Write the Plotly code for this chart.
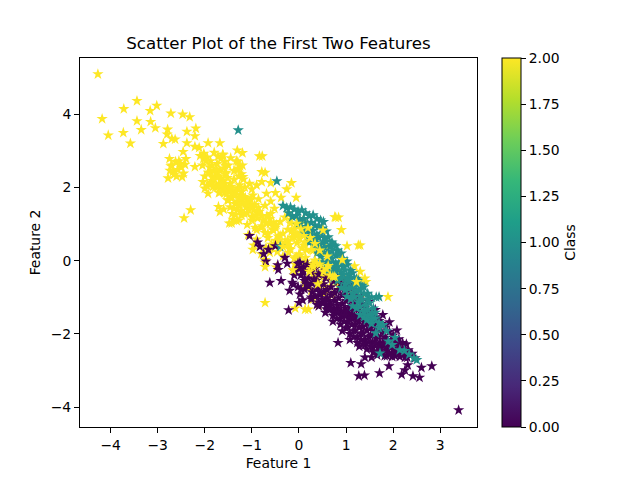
import plotly.graph_objects as go

# Class 2 (yellow) points
yellow_x = [-4.27,-3.44,-3.72,-3.02,-3.16,-4.18,-3.44,-3.15,-2.72,-2.47,-2.32,-4.05,-3.73,-3.35,-3.05,-3.58,
 -2.79,-2.19,-2.38,-2.21,-2.80,-2.88,-2.70,-2.63,-2.38,-1.93,-1.68,-2.21,-2.12,-1.31,-1.20,-0.78,-2.46,
 -2.75,-2.72,-2.68,-2.60,-2.55,-2.50,-2.45,-2.78,-2.70,-2.62,-2.52,-2.42,-2.74,-2.65,-2.58,-2.48,-2.40,
 -2.10,-2.02,-1.95,-1.88,-1.80,-1.72,-1.62,-2.05,-1.98,-1.90,-1.82,-1.74,-1.66,-1.58,-2.00,-1.92,-1.85,-1.76,-1.68,-1.60,-1.50,
 -1.95,-1.85,-1.78,-1.70,-1.62,-1.55,-1.46,-1.38,-1.30,-1.25,-1.33,-1.28,-1.22,-1.18,-1.30,-1.24,
 -1.70,-1.62,-1.56,-1.50,-1.44,-1.38,-1.30,-1.22,-1.14,-1.06,-0.98,-1.60,-1.52,-1.44,-1.36,-1.28,-1.20,-1.12,-1.04,-0.96,-0.88,
 -1.40,-1.32,-1.24,-1.16,-1.08,-1.00,-0.92,-0.84,-0.76,-0.68,-0.60,-0.52,-0.80,-0.72,-0.66,-0.56,-0.48,-0.40,-0.30,-0.22,
 -0.84,-0.72,-0.60,-0.50,-0.38,-0.26,-0.16,-0.06,-0.70,-0.62,-0.50,-0.40,-0.28,-0.16,-0.02,0.08,0.18,
 -2.44,-2.30,-1.48,-1.46,-1.42,-1.58,-1.08,-0.96,-0.90,-0.98,-0.80,-0.72,-0.48,-0.58,-0.18,-0.18,-0.24,-0.12,
 -0.30,-0.20,-0.10,0.00,0.10,0.20,0.30,0.40,0.50,0.58,-0.08,0.04,0.14,0.24,0.34,0.46,0.56,0.66,0.76,0.12,0.26,0.42,0.54,0.68,0.80,
 0.30,0.42,0.56,0.70,0.84,0.98,1.10,0.78,0.90,1.02,1.18,1.30,1.28,1.42,1.18,1.30,0.20,-0.62,-0.72,-0.50,0.84,-0.08,-0.72,
 -1.92,-1.84,-1.76,-1.66,-1.56,-1.88,-1.80,-1.70,-1.60,-1.52,-1.74,-1.64,-1.58,-1.48,-1.42,-1.68,-1.54,-1.40,-1.34,-1.26,
 -1.44,-1.36,-1.30,-1.18,-1.10,-1.02,-1.38,-1.26,-1.14,-1.00,-0.94,-0.86,-1.22,-1.10,-0.98,-0.88,-0.78,-0.70,-0.62,-0.54,
 -0.90,-0.78,-0.66,-0.54,-0.44,-0.34,-0.24,-0.14,-0.04,0.06,-0.58,-0.46,-0.34,-0.22,-0.10,0.02,0.14,0.26,0.38,0.50,
 -0.42,-0.30,-0.18,-0.06,0.06,0.18,0.30,0.42,0.54,0.66]
yellow_y = [5.09,4.36,4.14,4.23,4.09,3.87,3.81,3.79,4.02,3.99,3.92,3.42,3.49,3.57,3.62,3.20,
 3.58,3.61,3.52,3.40,3.45,3.19,3.33,3.31,3.21,3.21,3.21,3.11,3.08,3.01,2.94,2.85,2.97,
 2.78,2.58,2.42,2.30,2.72,2.54,2.38,2.25,2.60,2.70,2.65,2.62,2.46,2.35,2.48,2.28,2.78,
 2.86,2.92,2.82,2.72,2.95,2.84,2.90,2.60,2.72,2.55,2.44,2.64,2.78,2.70,2.30,2.40,2.18,2.30,2.46,2.52,2.60,
 2.04,2.12,2.00,2.08,2.15,2.03,2.10,2.22,2.48,2.58,2.72,2.30,2.36,2.22,1.98,1.78,
 1.85,1.95,2.00,1.90,2.02,1.85,1.96,1.88,1.72,1.64,1.78,1.40,1.65,1.75,1.55,1.72,1.60,1.46,1.52,1.38,1.30,
 1.12,1.08,1.36,1.28,1.40,1.18,1.24,1.34,1.10,1.22,1.28,1.42,0.90,0.76,0.62,0.86,0.98,1.06,1.18,1.30,
 2.85,2.40,2.12,1.85,1.72,1.95,2.12,1.72,0.35,0.22,0.55,0.68,0.48,0.80,0.95,1.08,0.85,
 1.16,1.38,1.02,1.46,1.28,1.85,0.70,0.42,0.58,0.30,0.18,0.02,-0.18,0.44,1.12,1.02,0.85,0.75,
 0.50,0.32,0.64,0.18,0.42,0.60,0.28,0.46,0.20,0.36,-0.10,-0.22,0.08,-0.32,-0.48,-0.10,-0.26,-0.38,-0.18,-0.62,-0.82,-0.60,-0.90,-0.48,-0.60,
 -1.05,-1.22,-0.72,-0.95,-0.68,-0.52,-0.88,1.18,0.84,0.40,-0.15,-0.30,-0.55,-0.58,-0.80,-1.00,-1.33,0.35,-0.05,0.90,-0.28,-1.30,-1.15,
 2.40,2.28,2.40,2.24,2.36,2.10,2.22,2.30,2.18,2.26,2.02,2.08,1.96,2.00,1.92,1.86,1.82,1.80,1.90,2.06,
 1.70,1.78,1.62,1.74,1.56,1.66,1.42,1.50,1.56,1.44,1.52,1.44,1.24,1.30,1.20,1.16,1.22,1.02,1.14,1.04,
 0.84,0.94,0.74,0.82,0.66,0.74,0.56,0.62,0.48,0.34,0.36,0.24,0.12,0.22,0.06,0.14,-0.02,-0.12,-0.08,-0.20,
 0.54,0.42,0.30,0.10,-0.12,-0.24,-0.36,-0.40,-0.44,-0.70]

# More yellow points read from the wider parts of the cloud
yellow_more_x = [-2.21,-2.03,-1.61,-1.30,-1.19,-0.79,-0.79,-0.90,-0.69,-1.71,
 -1.68,-1.50,-1.30,-1.43,-1.27,-1.00,-0.93,-0.62,-0.50,-2.04,
 -1.93,-2.00,-1.83,-1.66,-1.55,-1.57,-1.29,-1.20,-1.85,-1.75,
 -1.45,-1.38,-1.05,-1.00,-0.86,-0.60,-1.15,-1.35,-1.10,-0.72]
yellow_more_y = [2.56,2.79,2.88,2.70,2.29,2.42,2.15,2.06,1.83,1.47,
 1.33,1.65,1.38,1.02,1.10,1.10,0.90,1.01,0.95,2.15,
 1.83,1.97,2.01,2.05,2.40,2.60,2.52,2.60,2.60,2.50,
 2.80,2.45,2.10,1.95,1.68,1.62,2.00,1.25,0.98,1.50]

# Class 0 (dark purple) points
purple_x = [3.39,2.82,2.60,2.56,2.42,2.31,2.25,2.18,1.91,1.71,1.54,1.40,1.39,1.27,1.32,1.10,0.83,2.25,2.04,1.87,
 -1.05,-0.88,-0.83,-0.75,-0.65,-0.50,-0.62,-0.44,-0.38,-0.25,-0.08,-0.02,-0.20,-0.12,-0.30,-0.45,-0.70,-0.22,0.00,
 0.02,0.10,0.18,0.26,0.34,0.42,0.50,0.58,0.66,0.74,0.82,0.90,0.98,1.06,1.14,
 0.04,0.12,0.20,0.28,0.36,0.44,0.52,0.60,0.68,0.76,0.84,0.92,1.00,1.08,1.16,1.24,1.32,
 0.12,0.20,0.28,0.36,0.44,0.52,0.60,0.68,0.76,0.84,0.92,1.00,1.08,1.16,1.24,1.32,1.40,1.48,
 0.26,0.34,0.42,0.50,0.58,0.66,0.74,0.82,0.90,0.98,1.06,1.14,1.22,1.30,1.38,1.46,1.54,1.62,
 0.42,0.50,0.58,0.66,0.74,0.82,0.90,0.98,1.06,1.14,1.22,1.30,1.38,1.46,1.54,1.62,1.70,1.78,
 0.56,0.64,0.72,0.80,0.88,0.96,1.04,1.12,1.20,1.28,1.36,1.44,1.52,1.60,1.68,1.76,1.84,1.92,
 0.72,0.80,0.88,0.96,1.04,1.12,1.20,1.28,1.36,1.44,1.52,1.60,1.68,1.76,1.84,1.92,2.00,2.08,
 0.92,1.00,1.08,1.16,1.24,1.32,1.40,1.48,1.56,1.64,1.72,1.80,1.88,1.96,2.04,2.12,2.20,
 1.08,1.16,1.24,1.32,1.40,1.48,1.56,1.64,1.72,1.80,1.88,1.96,2.04,2.12,2.20,2.28,
 1.28,1.36,1.44,1.52,1.60,1.68,1.76,1.84,1.92,2.00,2.08,2.16,2.24,2.32,2.40,
 1.58,1.66,1.74,1.82,1.90,1.98,2.06,2.14,2.22,2.30,2.38,2.46,
 0.00,0.12,0.04,0.18,0.32,0.44,0.56,-0.02,0.10,0.26,0.38,-0.10,-0.14,0.02,0.08]
purple_y = [-4.08,-2.88,-2.92,-3.19,-3.15,-2.85,-2.99,-3.11,-2.88,-3.07,-2.64,-2.64,-3.13,-3.15,-2.82,-2.79,-2.24,-2.64,-2.60,-2.60,
 0.68,0.50,0.38,0.18,0.30,0.40,-0.60,-0.25,-0.55,-0.08,-0.30,-0.72,-0.82,-0.65,0.08,-0.12,-0.02,-1.35,-1.15,
 -0.05,-0.18,-0.10,-0.30,-0.22,-0.38,-0.30,-0.48,-0.40,-0.56,-0.48,-0.64,-0.56,-0.72,-0.66,
 -0.40,-0.55,-0.48,-0.62,-0.55,-0.72,-0.64,-0.80,-0.72,-0.88,-0.80,-0.94,-0.86,-1.00,-0.92,-1.06,-0.96,
 -0.78,-0.70,-0.86,-0.78,-0.94,-0.86,-1.02,-0.94,-1.10,-1.02,-1.18,-1.10,-1.26,-1.16,-1.30,-1.18,-1.28,-1.12,
 -1.05,-0.98,-1.14,-1.06,-1.22,-1.14,-1.30,-1.22,-1.38,-1.30,-1.44,-1.36,-1.50,-1.40,-1.52,-1.38,-1.48,-1.34,
 -1.24,-1.16,-1.32,-1.24,-1.40,-1.32,-1.48,-1.40,-1.56,-1.48,-1.62,-1.52,-1.66,-1.56,-1.68,-1.54,-1.64,-1.48,
 -1.42,-1.34,-1.50,-1.42,-1.58,-1.50,-1.66,-1.58,-1.74,-1.66,-1.80,-1.70,-1.84,-1.74,-1.86,-1.72,-1.82,-1.68,
 -1.66,-1.58,-1.74,-1.66,-1.82,-1.74,-1.90,-1.82,-1.98,-1.90,-2.04,-1.94,-2.08,-1.96,-2.10,-1.94,-2.04,-1.90,
 -1.92,-1.84,-2.00,-1.92,-2.08,-2.00,-2.16,-2.08,-2.22,-2.12,-2.26,-2.14,-2.28,-2.16,-2.26,-2.14,-2.24,
 -2.16,-2.08,-2.24,-2.16,-2.30,-2.22,-2.36,-2.26,-2.40,-2.30,-2.42,-2.32,-2.44,-2.30,-2.40,-2.28,
 -2.34,-2.28,-2.42,-2.34,-2.48,-2.38,-2.52,-2.44,-2.54,-2.44,-2.56,-2.44,-2.54,-2.44,-2.54,
 -2.50,-2.58,-2.50,-2.60,-2.52,-2.62,-2.54,-2.62,-2.54,-2.64,-2.56,-2.66,
 -0.22,-0.48,-0.78,-0.66,-0.52,-0.86,-1.10,-0.08,-0.30,-1.00,-1.20,-0.40,-0.60,-0.92,-1.08]

# Class 1 (teal) points
teal_x = [-1.29,-0.47,-0.34,-0.26,-0.18,-0.10,-0.02,0.06,0.14,0.22,0.30,0.38,0.46,0.52,
 -0.22,-0.14,-0.06,0.02,0.10,0.18,0.26,0.34,0.42,0.50,0.58,
 -0.02,0.06,0.14,0.22,0.30,0.38,0.46,0.54,0.62,0.70,0.78,
 0.10,0.18,0.26,0.34,0.42,0.50,0.58,0.66,0.74,0.82,0.90,
 0.22,0.30,0.38,0.46,0.54,0.62,0.70,0.78,0.86,0.94,1.02,
 0.38,0.46,0.54,0.62,0.70,0.78,0.86,0.94,1.02,1.10,
 0.50,0.58,0.66,0.74,0.82,0.90,0.98,1.06,1.14,1.22,
 0.62,0.70,0.78,0.86,0.94,1.02,1.10,1.18,1.26,1.34,
 0.74,0.82,0.90,0.98,1.06,1.14,1.22,1.30,1.38,1.46,
 0.90,0.98,1.06,1.14,1.22,1.30,1.38,1.46,1.54,
 1.02,1.10,1.18,1.26,1.34,1.42,1.50,1.58,
 1.14,1.22,1.30,1.38,1.46,1.54,1.62,1.70,
 1.30,1.38,1.46,1.54,1.62,1.70,1.78,
 1.44,1.54,1.63,1.70,1.78,1.86,
 1.72,1.90,2.04,2.14,1.98,2.24,2.34,2.44,2.50,1.64,-0.40]
teal_y = [3.56,2.17,1.50,1.44,1.46,1.40,1.34,1.38,1.30,1.22,1.24,1.14,1.10,1.06,
 1.30,1.20,1.22,1.12,1.14,1.02,1.04,0.96,0.94,0.88,0.80,
 0.98,0.88,0.92,0.80,0.82,0.70,0.74,0.62,0.64,0.50,0.40,
 0.76,0.66,0.70,0.58,0.62,0.48,0.52,0.38,0.42,0.28,0.20,
 0.50,0.42,0.46,0.32,0.36,0.22,0.26,0.14,0.18,0.04,-0.02,
 0.20,0.12,0.16,0.02,0.06,-0.08,-0.04,-0.16,-0.12,-0.28,
 -0.04,-0.10,-0.06,-0.22,-0.18,-0.32,-0.26,-0.40,-0.34,-0.50,
 -0.26,-0.32,-0.28,-0.44,-0.38,-0.52,-0.46,-0.60,-0.54,-0.68,
 -0.46,-0.54,-0.48,-0.64,-0.58,-0.72,-0.66,-0.80,-0.72,-0.90,
 -0.74,-0.80,-0.76,-0.90,-0.84,-0.98,-0.90,-1.06,-1.00,
 -0.98,-1.04,-1.00,-1.14,-1.08,-1.22,-1.16,-1.30,
 -1.24,-1.30,-1.26,-1.40,-1.34,-1.48,-1.42,-0.99,
 -1.48,-1.54,-1.50,-1.62,-1.58,-1.70,-1.76,
 -1.62,-1.72,-1.98,-1.84,-1.76,-1.92,
 -2.53,-2.20,-2.10,-2.44,-2.30,-2.46,-2.56,-2.66,-2.71,-1.00,0.38]

# Yellow points that sit on top of the other classes
top_x = [1.40,1.22,1.89,0.40,0.13,0.76,0.84,0.92,0.30,0.22,
 0.58,0.66,1.30,0.76,1.26,-0.72,-0.05,-0.34,-0.20,0.16,
 0.19,0.51,0.34,0.30,-0.13,0.72,0.04,0.10,-0.04,0.12,
 0.24,0.34,0.44,0.60,0.02,-0.10,0.26,0.44,0.52,0.62]
top_y = [-0.48,-0.58,-0.99,-0.64,-1.33,-0.44,1.18,0.02,-0.10,-0.30,
 -0.22,-0.40,0.42,1.19,0.42,-0.17,1.01,0.38,0.43,0.29,
 0.89,0.83,0.01,-0.17,-0.26,-0.44,0.86,0.68,0.72,0.50,
 0.62,0.46,0.28,0.12,0.60,0.86,0.30,-0.10,-0.30,-0.14]

feature_1 = yellow_x + yellow_more_x + purple_x + teal_x + top_x
feature_2 = yellow_y + yellow_more_y + purple_y + teal_y + top_y
labels = [2]*(len(yellow_x)+len(yellow_more_x)) + [0]*len(purple_x) + [1]*len(teal_x) + [2]*len(top_x)

title_text = "Scatter Plot of the First Two Features"
FONT = "DejaVu Sans"

fig = go.Figure(go.Scatter(
    x=feature_1, y=feature_2, mode="markers", showlegend=False,
    marker=dict(symbol="star", size=8.5, color=labels, colorscale="Viridis", cmin=0, cmax=2,
                line=dict(width=0),
                colorbar=dict(title=dict(text="Class", side="right", font=dict(size=13.9, color="black")),
                              x=1.063, xanchor="left", xref="paper", y=0.5, yanchor="middle", len=1, lenmode="fraction",
                              thickness=19, thicknessmode="pixels", outlinecolor="black", outlinewidth=1,
                              tick0=0, dtick=0.25, tickformat=".2f", ticks="outside", ticklen=5, tickwidth=1,
                              tickcolor="black", tickfont=dict(size=13.9, color="black"), ypad=0, xpad=0)),
))
axis = dict(showgrid=False, zeroline=False, showline=True, linecolor="black", linewidth=1, mirror=True,
            ticks="outside", ticklen=5, tickwidth=1, tickcolor="black", tickfont=dict(size=13.9, color="black"))
fig.update_layout(
    width=632, height=472, margin=dict(l=72, r=163, t=50, b=53),
    paper_bgcolor="white", plot_bgcolor="white", font=dict(family=FONT, color="black"),
    title=dict(text=title_text, font=dict(size=16.67, color="black"), x=270.5/632, xanchor="center", y=1-35/472, yanchor="middle"),
    xaxis=dict(title=dict(text="Feature 1", font=dict(size=13.9), standoff=6), range=[-4.65, 3.78],
               tickvals=[-4,-3,-2,-1,0,1,2,3], ticktext=["−4","−3","−2","−1","0","1","2","3"], **axis),
    yaxis=dict(title=dict(text="Feature 2", font=dict(size=13.9), standoff=6), range=[-4.54, 5.53],
               tickvals=[-4,-2,0,2,4], ticktext=["−4","−2","0","2","4"], **axis),
)
fig.write_html("out.html")
